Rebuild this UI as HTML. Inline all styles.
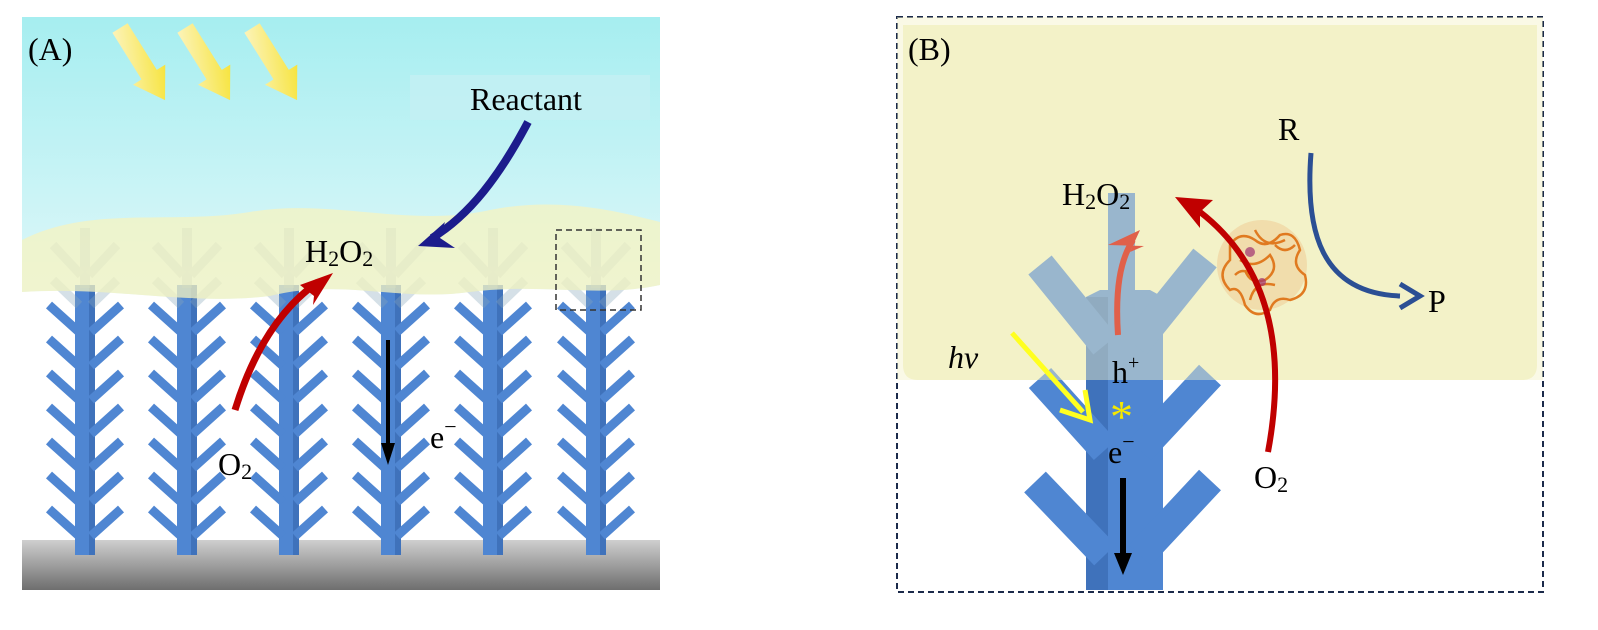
<!DOCTYPE html>
<html><head><meta charset="utf-8"><style>
html,body{margin:0;padding:0;background:#fff;}
svg{display:block;}
text{font-family:"Liberation Serif",serif;fill:#000;}
</style></head><body>
<svg width="1598" height="630" viewBox="0 0 1598 630" xmlns="http://www.w3.org/2000/svg">
<defs>
<linearGradient id="sky" x1="0" y1="0" x2="0" y2="1">
<stop offset="0" stop-color="#a6eef0"/><stop offset="1" stop-color="#e4f8fa"/>
</linearGradient>
<linearGradient id="gnd" x1="0" y1="0" x2="0" y2="1">
<stop offset="0" stop-color="#cfcfcf"/><stop offset="1" stop-color="#6e6e6e"/>
</linearGradient>
<linearGradient id="sun" x1="0" y1="0" x2="1" y2="1">
<stop offset="0" stop-color="#fdf6d0"/><stop offset="1" stop-color="#f5e020"/>
</linearGradient>
<g id="treeA">
<rect x="-10" y="285" width="20" height="270" fill="#4f86d2"/>
<rect x="4" y="285" width="6" height="270" fill="#3f72bb"/>
<g stroke="#4f86d2" stroke-width="9" stroke-linecap="butt">
<line x1="-6" y1="332" x2="-36" y2="305"/><line x1="6" y1="332" x2="36" y2="305"/>
<line x1="-6" y1="366" x2="-36" y2="339"/><line x1="6" y1="366" x2="36" y2="339"/>
<line x1="-6" y1="400" x2="-36" y2="373"/><line x1="6" y1="400" x2="36" y2="373"/>
<line x1="-6" y1="434" x2="-36" y2="407"/><line x1="6" y1="434" x2="36" y2="407"/>
<line x1="-6" y1="468" x2="-36" y2="441"/><line x1="6" y1="468" x2="36" y2="441"/>
<line x1="-6" y1="502" x2="-36" y2="475"/><line x1="6" y1="502" x2="36" y2="475"/>
<line x1="-6" y1="536" x2="-36" y2="509"/><line x1="6" y1="536" x2="36" y2="509"/>
</g>
<g opacity="0.35">
<rect x="-5" y="228" width="10" height="60" fill="#7fa0b8"/>
<g stroke="#8aa8bb" stroke-width="9">
<line x1="-4" y1="275" x2="-32" y2="245"/><line x1="4" y1="275" x2="32" y2="245"/>
<line x1="-6" y1="305" x2="-32" y2="280"/><line x1="6" y1="305" x2="32" y2="280"/>
</g></g>
</g>
<polygon id="sunarrow" points="-9,0 9,0 9,55 19,55 0,85 -19,55 -9,55" fill="url(#sun)"/>
<clipPath id="upper"><rect x="897" y="17" width="646" height="363"/></clipPath>
</defs>

<!-- Panel A -->
<rect x="22" y="17" width="638" height="300" fill="url(#sky)"/>
<path d="M22,292 C110,286 190,306 270,296 C340,278 400,302 470,292 C540,283 600,298 660,285 L660,545 L22,545 Z" fill="#ffffff"/>
<rect x="22" y="540" width="638" height="50" fill="url(#gnd)"/>
<use href="#treeA" x="85"/>
<use href="#treeA" x="187"/>
<use href="#treeA" x="289"/>
<use href="#treeA" x="391"/>
<use href="#treeA" x="493"/>
<use href="#treeA" x="596"/>
<path d="M22,240 C90,205 170,225 250,212 C330,198 410,228 490,210 C560,196 620,212 660,222 L660,285 C600,298 540,283 470,292 C400,302 340,278 270,296 C190,306 110,286 22,292 Z" fill="#f5f3c0" opacity="0.75"/>
<use href="#sunarrow" transform="translate(120,28) rotate(-32)"/>
<use href="#sunarrow" transform="translate(185,28) rotate(-32)"/>
<use href="#sunarrow" transform="translate(252,28) rotate(-32)"/>
<text x="28" y="60" font-size="32">(A)</text>
<rect x="410" y="75" width="240" height="45" fill="#c4f0f2" opacity="0.8"/>
<text x="470" y="110" font-size="32">Reactant</text>
<path d="M528,122 C500,175 470,215 432,238" stroke="#1c1c8c" stroke-width="8" fill="none"/>
<polygon points="418,246 445,222 440,238 455,248" fill="#1c1c8c"/>
<text x="305" y="262" font-size="32">H<tspan font-size="22" dy="4">2</tspan><tspan dy="-4">O</tspan><tspan font-size="22" dy="4">2</tspan></text>
<rect x="556" y="230" width="85" height="80" fill="none" stroke="#333" stroke-width="1.5" stroke-dasharray="6,4"/>
<path d="M235,410 C255,345 285,305 318,282" stroke="#c00000" stroke-width="7" fill="none"/>
<polygon points="333,273 300,285 314,296 313,305" fill="#c00000"/>
<text x="218" y="475" font-size="32">O<tspan font-size="22" dy="4">2</tspan></text>
<line x1="388" y1="340" x2="388" y2="445" stroke="#000" stroke-width="4"/>
<polygon points="381,443 395,443 388,465" fill="#000"/>
<text x="430" y="448" font-size="32">e<tspan font-size="22" dy="-14">−</tspan></text>

<!-- Panel B -->
<rect x="897" y="17" width="646" height="575" fill="none" stroke="#1b2a4a" stroke-width="2" stroke-dasharray="6,4"/>
<path d="M903,25 H1537 V365 Q1537,380 1522,380 H918 Q903,380 903,365 Z" fill="#f3f2c8"/>
<g>
<rect x="1108" y="193" width="27" height="110" fill="#4f86d2"/>
<polygon points="1086,297 1100,290 1150,290 1163,297 1163,590 1086,590" fill="#4f86d2"/>
<rect x="1086" y="297" width="22" height="293" fill="#3f72bb"/>
<g stroke="#4f86d2" stroke-width="30">
<line x1="1105" y1="345" x2="1040" y2="265"/><line x1="1135" y1="345" x2="1205" y2="258"/>
<line x1="1105" y1="450" x2="1040" y2="378"/><line x1="1140" y1="450" x2="1210" y2="375"/>
<line x1="1105" y1="555" x2="1035" y2="482"/><line x1="1140" y1="555" x2="1210" y2="480"/>
</g>
</g>
<rect x="897" y="17" width="646" height="363" fill="#f3f2c8" opacity="0.45" clip-path="url(#upper)"/>
<text x="908" y="60" font-size="32">(B)</text>
<text x="1062" y="205" font-size="32">H<tspan font-size="22" dy="4">2</tspan><tspan dy="-4">O</tspan><tspan font-size="22" dy="4">2</tspan></text>
<path d="M1118,335 C1115,290 1120,260 1133,240" stroke="#e0604a" stroke-width="6" fill="none"/>
<polygon points="1140,230 1130,252 1144,246 1108,245" fill="#e0604a"/>
<text x="1112" y="383" font-size="32">h<tspan font-size="20" dy="-14">+</tspan></text>
<text x="948" y="368" font-size="32" font-style="italic">hv</text>
<line x1="1012" y1="333" x2="1083" y2="412" stroke="#ffff20" stroke-width="5"/>
<polyline points="1060,410 1090,420 1085,390" fill="none" stroke="#ffff20" stroke-width="5"/>
<text x="1110" y="432" font-size="46" style="fill:#f5e800" font-family="Liberation Sans,sans-serif">*</text>
<text x="1108" y="463" font-size="32">e<tspan font-size="22" dy="-14">−</tspan></text>
<line x1="1123" y1="478" x2="1123" y2="555" stroke="#000" stroke-width="6"/>
<polygon points="1114,553 1132,553 1123,575" fill="#000"/>
<g>
<ellipse cx="1262" cy="265" rx="45" ry="45" fill="#f0c890" opacity="0.5"/>
<g fill="none" stroke="#e07a20" stroke-width="2.5">
<path d="M1230,245 q10,-15 25,-5 q12,10 25,-5 q15,-5 20,15 q-10,15 5,25 q5,20 -15,25 q-15,-5 -20,10 q-15,10 -25,-5 q-5,-20 -15,-15 q-15,-15 0,-30 z"/>
<path d="M1240,260 q15,10 30,-5 q10,15 -5,25 q-15,5 -20,-10"/>
<path d="M1255,230 q10,20 30,10 M1250,300 q5,-20 25,-15 M1235,275 q10,-10 20,5 M1275,245 q10,10 20,0"/>
</g>
<circle cx="1250" cy="252" r="5" fill="#a03070" opacity="0.7"/>
<circle cx="1262" cy="282" r="4" fill="#a03070" opacity="0.7"/>
</g>
<path d="M1268,452 C1285,360 1275,270 1200,212" stroke="#c00000" stroke-width="6" fill="none"/>
<polygon points="1175,197 1213,200 1200,212 1200,228" fill="#c00000"/>
<path d="M1311,153 C1305,230 1320,293 1400,296" stroke="#2b4f94" stroke-width="5" fill="none"/>
<polyline points="1400,284 1420,296 1400,308" fill="none" stroke="#2b4f94" stroke-width="5"/>
<text x="1278" y="140" font-size="32">R</text>
<text x="1428" y="312" font-size="32">P</text>
<text x="1254" y="488" font-size="32">O<tspan font-size="22" dy="4">2</tspan></text>
</svg>
</body></html>
